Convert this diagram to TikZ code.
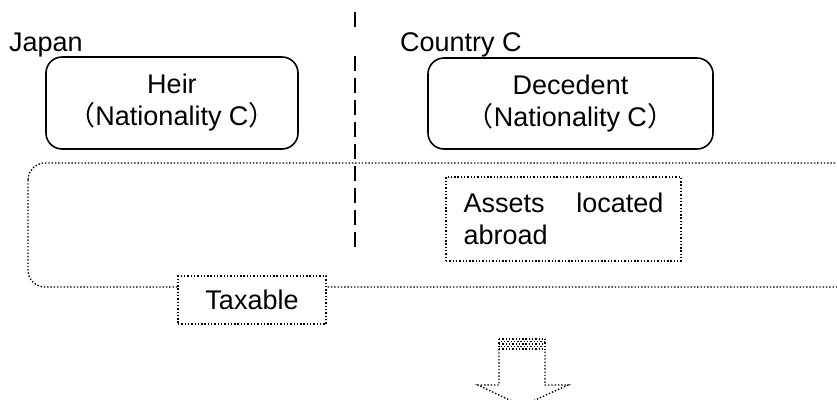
\documentclass[tikz,border=0pt]{standalone}
\usepackage{fontspec}
\setmainfont{Liberation Sans}
\newfontfamily\cjkfont{Noto Sans CJK JP}
\begin{document}
\begin{tikzpicture}[x=1pt,y=-1pt,
  txt/.style={font=\fontsize{27}{32}\selectfont, inner sep=0pt},
  solidbox/.style={draw, line width=1.6pt, rounded corners=16pt, align=center,
    font=\fontsize{27}{32}\selectfont, inner sep=0pt},
  dotline/.style={line width=1.4pt, dash pattern=on 1.4pt off 1.9pt},
  dotbox/.style={draw, dotline, fill=white, font=\fontsize{27}{32}\selectfont, inner sep=0pt},
  divider/.style={line width=1.6pt}]
\useasboundingbox (0,0) rectangle (837,399);
\clip (0,0) rectangle (837,399);
% divider
\draw[divider] (355,12) -- (355,27);
\draw[divider, dash pattern=on 15pt off 7pt] (355,56) -- (355,247);
% labels
\node[txt, anchor=west] (japan) at (9,45) {Japan};
\node[txt, anchor=west] (country) at (400,45) {Country C};
% person boxes
\node[solidbox, minimum width=252pt, minimum height=92pt] (heir) at (172,103)
  {Heir\\{\cjkfont （}Nationality C{\cjkfont ）}};
\node[solidbox, minimum width=285pt, minimum height=91pt] (dec) at (570.5,103.5)
  {Decedent\\{\cjkfont （}Nationality C{\cjkfont ）}};
% big dotted region
\draw[dotline, rounded corners=17pt] (28,163) rectangle (860,287);
% assets
\node[dotbox, minimum width=235pt, minimum height=84pt, text width=200pt, align=left] (assets) at (563.5,219)
  {Assets\hfill located\\abroad};
% taxable
\node[dotbox, minimum width=148pt, minimum height=48pt] (tax) at (252,300) {Taxable};
% block arrow
\draw[dotline] (499,349) -- (499,385) -- (478,385) -- (522,406) -- (568,385) -- (545,385) -- (545,349);
\foreach \yy/\xo in {339/0, 341.5/1.6, 344/0, 346.5/1.6, 349/0}
  \draw[dotline] (499+\xo,\yy) -- (545,\yy);
\draw[dotline] (499,339) -- (499,349);
\draw[dotline] (545,339) -- (545,349);
\end{tikzpicture}
\end{document}
